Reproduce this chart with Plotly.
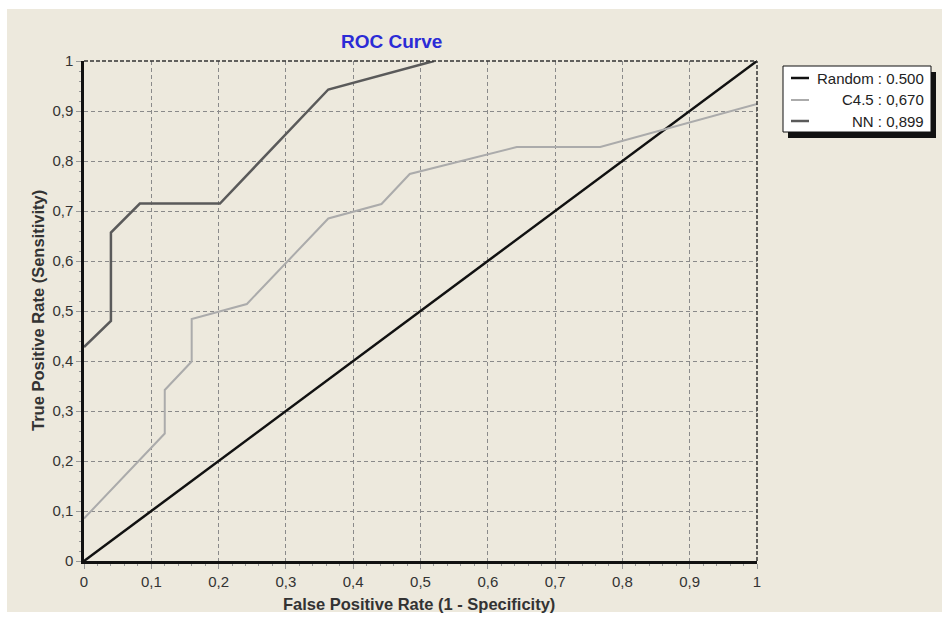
import plotly.graph_objects as go

# ROC points (false positive rate, true positive rate) per classifier
random_fpr = [0.0, 1.0]
random_tpr = [0.0, 1.0]

c45_fpr = [0.0, 0.12, 0.12, 0.16, 0.16, 0.202, 0.242, 0.363, 0.442, 0.484, 0.643, 0.767, 1.0]
c45_tpr = [0.085, 0.255, 0.342, 0.399, 0.484, 0.499, 0.514, 0.685, 0.714, 0.774, 0.828, 0.828, 0.914]

nn_fpr = [0.0, 0.04, 0.04, 0.083, 0.202, 0.363, 0.52]
nn_tpr = [0.428, 0.48, 0.657, 0.715, 0.715, 0.943, 1.0]

series_names = ["Random", "C4.5", "NN"]
auc_labels = ["0.500", "0,670", "0,899"]
series_colors = ["#111111", "#ababab", "#5a5a5a"]
series_widths = [2.5, 2.0, 2.5]

tick_vals = [i / 10 for i in range(11)]

W, H = 942, 619
L, R, T, B = 84, 757, 61, 561  # plot area in pixels
FONT = "Liberation Sans, Arial, sans-serif"


def px_x(p):
    return (p - L) / (R - L)


def px_y(p):
    return (B - p) / (B - T)


fig = go.Figure()
for fx, ty, name, col, w in zip(
    [random_fpr, c45_fpr, nn_fpr], [random_tpr, c45_tpr, nn_tpr],
    series_names, series_colors, series_widths,
):
    fig.add_trace(go.Scatter(x=fx, y=ty, mode="lines", name=name,
                             line=dict(color=col, width=w), cliponaxis=False))

axis_common = dict(
    range=[0, 1], tickvals=tick_vals, showgrid=True, gridcolor="#8a8a8a",
    griddash="4px,3px", gridwidth=1, zeroline=False, showline=True,
    linecolor="#111111", linewidth=2.5, ticks="outside", ticklen=5,
    tickcolor="#999999", tickfont=dict(family=FONT, size=15, color="#333333"),
    minor=dict(ticks="outside", ticklen=2, dtick=0.02, tickcolor="#999999", showgrid=False),
    fixedrange=True,
)
fig.update_xaxes(**axis_common, tickformat=".1~f")
fig.update_yaxes(**axis_common, tickformat=".1~f")

shapes = []
# dashed frame on top and right sides
shapes.append(dict(type="line", xref="paper", yref="paper", x0=0, x1=1, y0=1, y1=1,
                   line=dict(color="#333333", width=1.5, dash="4px,2px")))
shapes.append(dict(type="line", xref="paper", yref="paper", x0=1, x1=1, y0=0, y1=1,
                   line=dict(color="#333333", width=1.5, dash="4px,2px")))
# white outer border of the picture
for x0, x1, y0, y1 in [(0, W, 0, 9), (0, 7, 0, H), (0, W, 612, H)]:
    shapes.append(dict(type="rect", xref="paper", yref="paper", layer="above",
                       x0=px_x(x0), x1=px_x(x1), y0=px_y(y0), y1=px_y(y1),
                       fillcolor="white", line=dict(width=0)))

# legend box with drop shadow
lx0, lx1, ly0, ly1 = 783, 931, 66, 132
shapes.append(dict(type="rect", xref="paper", yref="paper", layer="above",
                   x0=px_x(lx0 + 5), x1=px_x(lx1 + 5), y0=px_y(ly0 + 6), y1=px_y(ly1 + 6),
                   fillcolor="#111111", line=dict(width=0)))
shapes.append(dict(type="rect", xref="paper", yref="paper", layer="above",
                   x0=px_x(lx0), x1=px_x(lx1), y0=px_y(ly0), y1=px_y(ly1),
                   fillcolor="white", line=dict(color="#111111", width=1)))

annotations = []
row_y = [78, 100, 121]
for ry, name, auc, col, w in zip(row_y, series_names, auc_labels, series_colors, series_widths):
    shapes.append(dict(type="line", xref="paper", yref="paper", layer="above",
                       x0=px_x(791), x1=px_x(809), y0=px_y(ry), y1=px_y(ry),
                       line=dict(color=col, width=w)))
    annotations.append(dict(x=px_x(926), y=px_y(ry), xref="paper", yref="paper",
                            text=f"{name} : {auc}", showarrow=False, xanchor="right",
                            yanchor="middle", font=dict(family=FONT, size=15, color="#222222")))

annotations.append(dict(x=px_x(391), y=px_y(42), xref="paper", yref="paper",
                        text="<b>ROC Curve</b>", showarrow=False, xanchor="center",
                        yanchor="middle", font=dict(family=FONT, size=19, color="#2b2bd6")))
annotations.append(dict(x=px_x(419), y=px_y(604), xref="paper", yref="paper",
                        text="<b>False Positive Rate (1 - Specificity)</b>", showarrow=False,
                        xanchor="center", yanchor="middle",
                        font=dict(family=FONT, size=16.5, color="#333333")))
annotations.append(dict(x=px_x(38), y=px_y(311), xref="paper", yref="paper",
                        text="<b>True Positive Rate (Sensitivity)</b>", showarrow=False,
                        textangle=-90, xanchor="center", yanchor="middle",
                        font=dict(family=FONT, size=16.5, color="#333333")))

fig.update_layout(
    width=W, height=H, autosize=False,
    margin=dict(l=L, r=W - R, t=T, b=H - B, pad=0),
    paper_bgcolor="#ede9dd", plot_bgcolor="#ede9dd",
    separators=", ", showlegend=False,
    shapes=shapes, annotations=annotations,
)

fig.write_html("out.html")
